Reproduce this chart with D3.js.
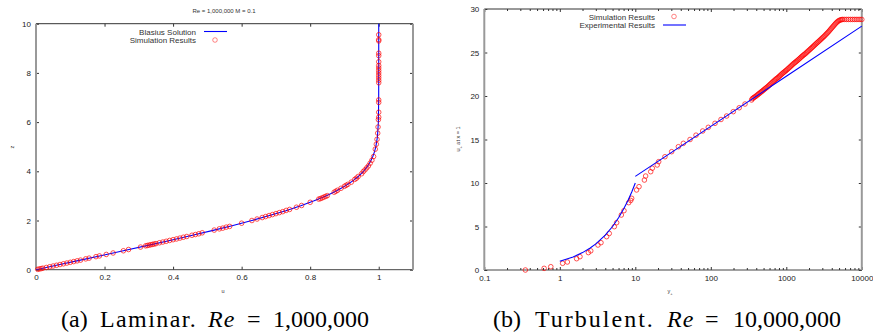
<!DOCTYPE html>
<html>
<head>
<meta charset="utf-8">
<script src="https://cdn.jsdelivr.net/npm/d3@7"></script>
<style>
  body { margin: 0; background: #fff; }
  svg { display: block; }
  .tick text { font-family: "Liberation Sans", Arial, sans-serif; font-size: 8px; fill: #222; }
  .tick line { stroke: #333; }
</style>
</head>
<body>
<svg id="chart" width="873" height="335"></svg>
<script>
// ---- laminar panel data ----
const blasiusZ = [0, 0.2, 0.4, 0.6, 0.8, 1.0, 1.2, 1.4, 1.6, 1.8, 2.0, 2.2, 2.4, 2.6, 2.8, 3.0, 3.2, 3.4, 3.6, 3.8, 4.0, 4.2, 4.4, 4.6, 4.8, 5.0, 5.4, 6.0, 7.0, 8.0, 10.0];
const blasiusU = [0, 0.0664, 0.1328, 0.1989, 0.2647, 0.3298, 0.3938, 0.4563, 0.5168, 0.5748, 0.6298, 0.6813, 0.7290, 0.7725, 0.8115, 0.8461, 0.8761, 0.9018, 0.9233, 0.9411, 0.9555, 0.9670, 0.9759, 0.9827, 0.9878, 0.9916, 0.9962, 0.9990, 0.9999, 1.0, 1.0];

const lamSimU = [0.005, 0.01, 0.015, 0.02, 0.03, 0.04, 0.05, 0.06, 0.07, 0.08, 0.09, 0.1, 0.11, 0.12, 0.13, 0.145, 0.155, 0.175, 0.185, 0.205, 0.225, 0.255, 0.27, 0.305, 0.32, 0.325, 0.33, 0.335, 0.34, 0.345, 0.35, 0.36, 0.37, 0.38, 0.39, 0.40, 0.41, 0.42, 0.43, 0.44, 0.455, 0.465, 0.475, 0.485, 0.52, 0.535, 0.545, 0.555, 0.565, 0.6, 0.63, 0.645, 0.66, 0.67, 0.68, 0.69, 0.70, 0.71, 0.72, 0.73, 0.74, 0.76, 0.775, 0.80, 0.825, 0.83, 0.835, 0.84, 0.845, 0.85, 0.87, 0.875, 0.88, 0.89, 0.9, 0.905, 0.91, 0.92, 0.93, 0.935, 0.94, 0.95, 0.955, 0.96, 0.965, 0.97, 0.975, 0.98, 0.985, 0.99, 0.993, 0.995, 0.997, 0.998, 0.999, 1.0, 1.0, 1.0, 1.0, 1.0, 1.0, 1.0, 1.0, 1.0, 1.0, 1.0, 1.0, 1.0, 1.0, 1.0, 1.0, 1.0, 1.0];
const lamSimZ = [0.015, 0.03, 0.045, 0.06, 0.09, 0.12, 0.15, 0.18, 0.21, 0.24, 0.27, 0.30, 0.33, 0.36, 0.39, 0.44, 0.47, 0.53, 0.56, 0.62, 0.68, 0.77, 0.82, 0.92, 0.97, 0.985, 1.0, 1.015, 1.03, 1.045, 1.06, 1.095, 1.125, 1.155, 1.19, 1.22, 1.25, 1.285, 1.32, 1.35, 1.40, 1.43, 1.46, 1.50, 1.61, 1.66, 1.69, 1.73, 1.76, 1.89, 2.0, 2.06, 2.12, 2.16, 2.2, 2.24, 2.28, 2.32, 2.36, 2.41, 2.45, 2.54, 2.61, 2.74, 2.87, 2.89, 2.92, 2.95, 2.98, 3.01, 3.15, 3.19, 3.23, 3.31, 3.39, 3.43, 3.47, 3.56, 3.67, 3.72, 3.79, 3.90, 3.99, 4.06, 4.14, 4.22, 4.33, 4.45, 4.6, 4.9, 5.1, 5.3, 5.55, 5.8, 6.1, 6.2, 6.4, 6.8, 6.9, 7.6, 7.7, 7.8, 7.9, 8.0, 8.1, 8.2, 8.3, 8.45, 8.7, 8.8, 9.3, 9.35, 9.55];

const lamXTicks = [0, 0.2, 0.4, 0.6, 0.8, 1];
const lamYTicks = [0, 2, 4, 6, 8, 10];

// ---- turbulent panel data ----
const viscYPlus = [1, 1.5, 2, 2.5, 3, 4, 5, 6, 7, 8, 9, 10];
const viscUPlus = [1, 1.5, 2, 2.5, 3, 4, 5, 6, 7, 8, 9, 10];
const logYPlus = [10, 100, 1000, 10000];
const logUPlus = [10.76, 16.51, 22.27, 28.03];

const turbSimYPlus = [0.35, 0.62, 0.76, 1.09, 1.26, 1.67, 1.85, 2.39, 2.57, 3.2, 3.51, 4.17, 4.52, 5.27, 5.66, 6.53, 7.08, 8.18, 8.7, 8.95, 10.4, 11.2, 13.2, 13.7, 16.0, 16.8, 19.5, 20.4,
  24.7, 30.3, 37.2, 43.3, 53.1, 63.7, 78.1, 92.7, 113.7, 136.5, 162, 198.6, 238, 284, 347,
  355, 366, 376, 387, 398, 410, 422, 434, 447, 460, 473, 487, 501, 516, 531, 546, 562, 579, 596, 613, 631, 649, 668, 688, 708, 729, 750, 772, 794, 817, 841, 866, 891, 917, 944, 972, 1000, 1029, 1059, 1090, 1122, 1155, 1189, 1223, 1259, 1296, 1334, 1373, 1413, 1454, 1496, 1540, 1585, 1631, 1679, 1728, 1778, 1830, 1884, 1939, 1995, 2054, 2113, 2175, 2239, 2304, 2371, 2441, 2512, 2585, 2661, 2738, 2818, 2901, 2985, 3073, 3162, 3255, 3350, 3447, 3548, 3652, 3758, 3868, 3981, 4097, 4217, 4340, 4467, 4597, 4732, 4870, 5012, 5158, 5309, 5464, 5623, 5957, 6310, 6683, 7079, 7499, 7943, 8414, 8913, 9441, 10000];
const turbSimUPlus = [0.0, 0.19, 0.38, 0.77, 0.92, 1.3, 1.53, 2.0, 2.2, 2.87, 3.14, 3.83, 4.2, 4.98, 5.44, 6.32, 6.82, 7.74, 8.0, 8.24, 9.2, 9.58, 10.34, 10.8, 11.3, 11.7, 12.07, 12.45,
  13.02, 13.6, 14.17, 14.56, 15.0, 15.5, 15.98, 16.4, 16.86, 17.3, 17.7, 18.2, 18.65, 19.08, 19.54,
  19.7, 19.78, 19.85, 19.92, 20.0, 20.09, 20.18, 20.27, 20.35, 20.44, 20.52, 20.61, 20.7, 20.79, 20.88, 20.96, 21.05, 21.15, 21.25, 21.35, 21.45, 21.55, 21.65, 21.75, 21.85, 21.94, 22.02, 22.11, 22.2, 22.3, 22.4, 22.5, 22.6, 22.69, 22.78, 22.87, 22.95, 23.05, 23.15, 23.25, 23.35, 23.45, 23.55, 23.65, 23.75, 23.84, 23.92, 24.01, 24.1, 24.2, 24.3, 24.4, 24.5, 24.59, 24.68, 24.77, 24.85, 24.95, 25.05, 25.15, 25.25, 25.35, 25.45, 25.55, 25.65, 25.75, 25.85, 25.95, 26.05, 26.15, 26.25, 26.35, 26.45, 26.55, 26.65, 26.75, 26.85, 26.96, 27.08, 27.19, 27.3, 27.42, 27.55, 27.68, 27.8, 27.93, 28.05, 28.18, 28.3, 28.42, 28.52, 28.61, 28.68, 28.73, 28.77, 28.79, 28.8, 28.8, 28.8, 28.8, 28.8, 28.8, 28.8, 28.8, 28.8, 28.8, 28.8];

const turbXTicks = [0.1, 1, 10, 100, 1000, 10000];
const turbXLabels = ["0.1", "1", "10", "100", "1000", "10000"];
const turbYTicks = [0, 5, 10, 15, 20, 25, 30];

const svg = d3.select('#chart');
const sans = '"Liberation Sans", Arial, sans-serif';
const serif = '"Liberation Serif", "Times New Roman", serif';

// draws ticks on all four sides plus the frame
function frame(x, y, xTicks, yTicks, xFmt) {
  const [x0, x1] = x.range();
  const [y0, y1] = y.range();

  svg.append('g').attr('transform', `translate(0,${y0})`)
    .call(d3.axisBottom(x).tickValues(xTicks).tickFormat(xFmt).tickSizeInner(-3).tickSizeOuter(0).tickPadding(5))
    .call(g => g.select('.domain').remove());
  svg.append('g').attr('transform', `translate(0,${y1})`)
    .call(d3.axisTop(x).tickValues(xTicks).tickFormat('').tickSizeInner(-3).tickSizeOuter(0))
    .call(g => g.select('.domain').remove());
  svg.append('g').attr('transform', `translate(${x0},0)`)
    .call(d3.axisLeft(y).tickValues(yTicks).tickSizeInner(-3).tickSizeOuter(0).tickPadding(5))
    .call(g => g.select('.domain').remove());
  svg.append('g').attr('transform', `translate(${x1},0)`)
    .call(d3.axisRight(y).tickValues(yTicks).tickFormat('').tickSizeInner(-3).tickSizeOuter(0))
    .call(g => g.select('.domain').remove());

  svg.append('line').attr('x1', x0).attr('x2', x1).attr('y1', y1).attr('y2', y1).attr('stroke', '#333');
  svg.append('line').attr('x1', x0).attr('x2', x1).attr('y1', y0).attr('y2', y0).attr('stroke', '#444');
  svg.append('line').attr('x1', x0).attr('x2', x0).attr('y1', y1).attr('y2', y0).attr('stroke', '#999').attr('stroke-width', 2);
  svg.append('line').attr('x1', x1).attr('x2', x1).attr('y1', y1).attr('y2', y0).attr('stroke', '#999').attr('stroke-width', 2);
}

function circles(x, y, xs, ys) {
  svg.append('g')
    .selectAll('circle')
    .data(xs.map((d, i) => [d, ys[i]]))
    .join('circle')
    .attr('cx', d => x(d[0]))
    .attr('cy', d => y(d[1]))
    .attr('r', 2.3)
    .attr('fill', 'none')
    .attr('stroke', '#ff0000')
    .attr('stroke-opacity', 0.75)
    .attr('stroke-width', 0.9);
}

function curve(x, y, xs, ys) {
  svg.append('path')
    .datum(xs.map((d, i) => [d, ys[i]]))
    .attr('fill', 'none')
    .attr('stroke', '#0000ff')
    .attr('stroke-width', 1.1)
    .attr('d', d3.line().x(d => x(d[0])).y(d => y(d[1])));
}

function legendEntry(xText, yLine, label, kind) {
  svg.append('text').attr('x', xText).attr('y', yLine + 3)
    .attr('text-anchor', 'end').attr('font-family', sans).attr('font-size', 8).attr('fill', '#333')
    .text(label);
  if (kind === 'line') {
    svg.append('line').attr('x1', xText + 8).attr('x2', xText + 31).attr('y1', yLine).attr('y2', yLine)
      .attr('stroke', '#0000ff').attr('stroke-width', 1.1);
  } else {
    svg.append('circle').attr('cx', xText + 19).attr('cy', yLine).attr('r', 2.3)
      .attr('fill', 'none').attr('stroke', '#ff0000').attr('stroke-opacity', 0.6).attr('stroke-width', 0.8);
  }
}

// ---- (a) laminar ----
const xL = d3.scaleLinear([0, 1.1], [36, 413]);
const yL = d3.scaleLinear([0, 10], [269.7, 23.7]);

frame(xL, yL, lamXTicks, lamYTicks, d => String(d));
curve(xL, yL, blasiusU, blasiusZ);
circles(xL, yL, lamSimU, lamSimZ);

svg.append('text').attr('x', 224).attr('y', 13).attr('text-anchor', 'middle')
  .attr('font-family', sans).attr('font-size', 6).attr('fill', '#333')
  .text('Re = 1,000,000 M = 0.1');
legendEntry(196, 31.5, 'Blasius Solution', 'line');
legendEntry(196, 40, 'Simulation Results', 'circle');

svg.append('text').attr('x', 223).attr('y', 293).attr('text-anchor', 'middle')
  .attr('font-family', sans).attr('font-size', 5.5).attr('fill', '#333').text('u');
svg.append('text').attr('transform', 'translate(13.5,147) rotate(-90)').attr('text-anchor', 'middle')
  .attr('font-family', sans).attr('font-size', 5.5).attr('fill', '#333').text('z');

// ---- (b) turbulent ----
const xR = d3.scaleLog([0.1, 10000], [484.3, 861.8]);
const yR = d3.scaleLinear([0, 30], [270, 9]);

frame(xR, yR, turbXTicks, turbYTicks, d => turbXLabels[turbXTicks.indexOf(d)]);

// minor log ticks top and bottom
const minor = [];
turbXTicks.slice(0, -1).forEach(t => { for (let k = 2; k < 10; k++) minor.push(t * k); });
svg.append('g').attr('transform', `translate(0,${yR.range()[0]})`)
  .call(d3.axisBottom(xR).tickValues(minor).tickFormat('').tickSizeInner(-2).tickSizeOuter(0))
  .call(g => g.select('.domain').remove());
svg.append('g').attr('transform', `translate(0,${yR.range()[1]})`)
  .call(d3.axisTop(xR).tickValues(minor).tickFormat('').tickSizeInner(-2).tickSizeOuter(0))
  .call(g => g.select('.domain').remove());

circles(xR, yR, turbSimYPlus, turbSimUPlus);
curve(xR, yR, viscYPlus, viscUPlus);
curve(xR, yR, logYPlus, logUPlus);

legendEntry(655, 16.5, 'Simulation Results', 'circle');
legendEntry(655, 25, 'Experimental Results', 'line');

const xlab = svg.append('text').attr('x', 670).attr('y', 293).attr('text-anchor', 'middle')
  .attr('font-family', sans).attr('font-size', 5.5).attr('fill', '#333');
xlab.append('tspan').text('y');
xlab.append('tspan').attr('font-size', 4).attr('dy', 1.5).text('+');

const ylab = svg.append('text').attr('transform', 'translate(460,139) rotate(-90)').attr('text-anchor', 'middle')
  .attr('font-family', sans).attr('font-size', 5.5).attr('fill', '#333');
ylab.append('tspan').text('u');
ylab.append('tspan').attr('font-size', 4).attr('dy', 1.5).text('+');
ylab.append('tspan').attr('dy', -1.5).text(' at x = 1');

// ---- captions (pieces placed like the LaTeX spacing) ----
function caption(parts) {
  const t = svg.append('text').attr('y', 327)
    .attr('font-family', serif).attr('font-size', 24).attr('fill', '#000');
  parts.forEach(p => t.append('tspan').attr('x', p[1])
    .attr('font-style', p[2] ? 'italic' : 'normal')
    .attr('letter-spacing', p[3] || 0)
    .text(p[0]));
}
caption([['(a)', 61], ['Laminar.', 100, false, 1.4], ['Re', 208, true, 1], ['=', 247], ['1,000,000', 273]]);
caption([['(b)', 493], ['Turbulent.', 535, false, 2], ['Re', 667, true, 1], ['=', 705], ['10,000,000', 733]]);
</script>
</body>
</html>
